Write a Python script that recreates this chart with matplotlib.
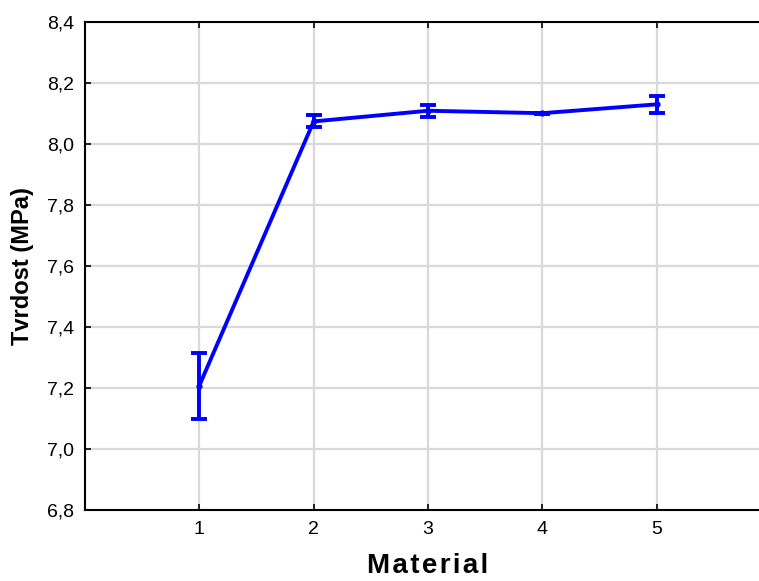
import matplotlib
matplotlib.use("Agg")
import matplotlib.pyplot as plt
from matplotlib.ticker import FuncFormatter

materials = [1, 2, 3, 4, 5]
hardness = [7.208, 8.074, 8.109, 8.101, 8.130]
err_low = [0.111, 0.018, 0.019, 0.002, 0.027]
err_high = [0.106, 0.021, 0.019, 0.002, 0.027]

plt.rcParams['font.family'] = ['Liberation Sans', 'DejaVu Sans']

fig = plt.figure(figsize=(7.59, 5.81), dpi=100)
ax = fig.add_axes([85/759, 1-510/581, (771-85)/759, (510-22)/581])

ax.errorbar(materials, hardness, yerr=[err_low, err_high], color='#0000ff',
            lw=2.8, elinewidth=2.8, capsize=5.5, capthick=2.8,
            marker='o', ms=3.5, zorder=3)

ax.set_xlim(0, 6)
ax.set_ylim(6.8, 8.4)
ax.set_xticks(materials)
ax.set_yticks([6.8, 7.0, 7.2, 7.4, 7.6, 7.8, 8.0, 8.2, 8.4])
ax.yaxis.set_major_formatter(FuncFormatter(lambda v, p: f"{v:.1f}".replace('.', ',')))
ax.grid(True, color='#d9d9d9', lw=1.6, zorder=0)
ax.set_axisbelow(True)
ax.tick_params(direction='in', length=4, width=1.2, labelsize=14, top=True, right=True,
               colors='black', pad=8)
for s in ax.spines.values():
    s.set_linewidth(1.5)

ax.set_xlabel('M a t e r i a l'.replace(' ', '\u200a'), fontsize=20, fontweight='bold', labelpad=11)
ax.set_ylabel('Tvrdost (MPa)', fontsize=17, fontweight='bold', labelpad=9)

fig.savefig('out.png', dpi=100)
